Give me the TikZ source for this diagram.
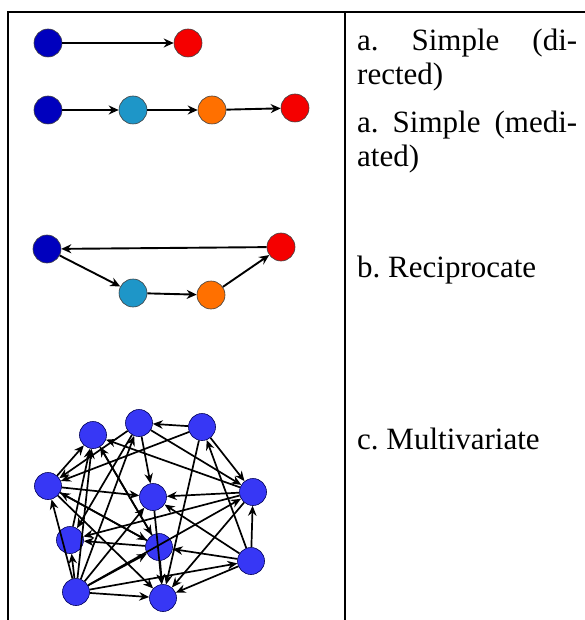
\documentclass[tikz,border=0pt]{standalone}
\usepackage{fontspec}
\setmainfont{Liberation Serif}
\usetikzlibrary{arrows.meta}
\definecolor{navy}{RGB}{0,0,190}
\definecolor{redn}{RGB}{245,0,0}
\definecolor{tealn}{RGB}{30,150,200}
\definecolor{orng}{RGB}{255,112,0}
\definecolor{mblue}{RGB}{55,55,245}
\tikzset{
  arr/.style={-{Stealth[length=10pt,width=9pt]}, line width=1.9pt},
  marr/.style={-{Stealth[length=10pt,width=8.5pt]}, line width=1.7pt},
  dot/.style={circle, draw=black!75, line width=0.6pt, minimum size=28pt, inner sep=0pt},
  mdot/.style={dot, fill=mblue, draw=blue!35!black, minimum size=27pt},
  cell/.style={anchor=base west, inner sep=0pt, font=\fontsize{31}{35}\selectfont},
  grid/.style={line width=1.6pt},
}
\frenchspacing

\begin{document}
\begin{tikzpicture}[x=1pt, y=-1pt]
\useasboundingbox (0,0) rectangle (585,620);
% table rules
\draw[grid] (8,620) -- (8,12) -- (585,12);
\draw[grid] (345,12) -- (345,620);

% a. simple (directed)
\node[dot, fill=navy] (d1) at (48,43) {};
\node[dot, fill=redn] (d2) at (188,43) {};
\draw[arr] (d1) -- (d2);

% a. simple (mediated)
\node[dot, fill=navy]  (m1) at (48,110) {};
\node[dot, fill=tealn] (m2) at (133,110) {};
\node[dot, fill=orng]  (m3) at (212,110) {};
\node[dot, fill=redn]  (m4) at (295,108) {};
\draw[arr] (m1) -- (m2);
\draw[arr] (m2) -- (m3);
\draw[arr] (m3) -- (m4);

% b. reciprocate
\node[dot, fill=navy]  (r1) at (47,249) {};
\node[dot, fill=tealn] (r2) at (133,293) {};
\node[dot, fill=orng]  (r3) at (211,295) {};
\node[dot, fill=redn]  (r4) at (281,247) {};
\draw[arr] (r1) -- (r2);
\draw[arr] (r2) -- (r3);
\draw[arr] (r3) -- (r4);
\draw[arr] (r4) -- (r1);

% c. multivariate
\node[mdot] (v1)  at (93,435)  {};
\node[mdot] (v2)  at (139,423) {};
\node[mdot] (v3)  at (202,427) {};
\node[mdot] (v4)  at (48,486)  {};
\node[mdot] (v5)  at (153,497) {};
\node[mdot] (v6)  at (253,492) {};
\node[mdot] (v7)  at (70,540)  {};
\node[mdot] (v8)  at (159,547) {};
\node[mdot] (v9)  at (251,561) {};
\node[mdot] (v10) at (76,592)  {};
\node[mdot] (v11) at (163,598) {};
\foreach \s/\t in {3/2, 2/5, 3/6, 9/3, 6/5, 2/6, 6/1, 4/5, 3/4, 2/4, 4/1,
                   7/1, 10/1, 10/2, 10/5, 10/8, 10/6, 10/11, 10/4, 10/7,
                   4/11, 4/8, 8/7, 6/7, 9/6, 9/8, 9/5, 9/11, 6/11, 3/11,
                   5/11, 8/11, 1/8, 2/7, 10/9, 8/1, 8/4}
  \draw[marr] (v\s) -- (v\t);

% labels
\node[cell] (t1) at (357,51)  {\makebox[220pt][s]{a. Simple (di-}};
\node[cell] (t2) at (357,85)  {rected)};
\node[cell] (t3) at (357,133) {\makebox[220pt][s]{a. Simple (medi-}};
\node[cell] (t4) at (357,167) {ated)};
\node[cell] (t5) at (357,277) {b. Reciprocate};
\node[cell] (t6) at (357,449) {c. Multivariate};
\end{tikzpicture}
\end{document}
